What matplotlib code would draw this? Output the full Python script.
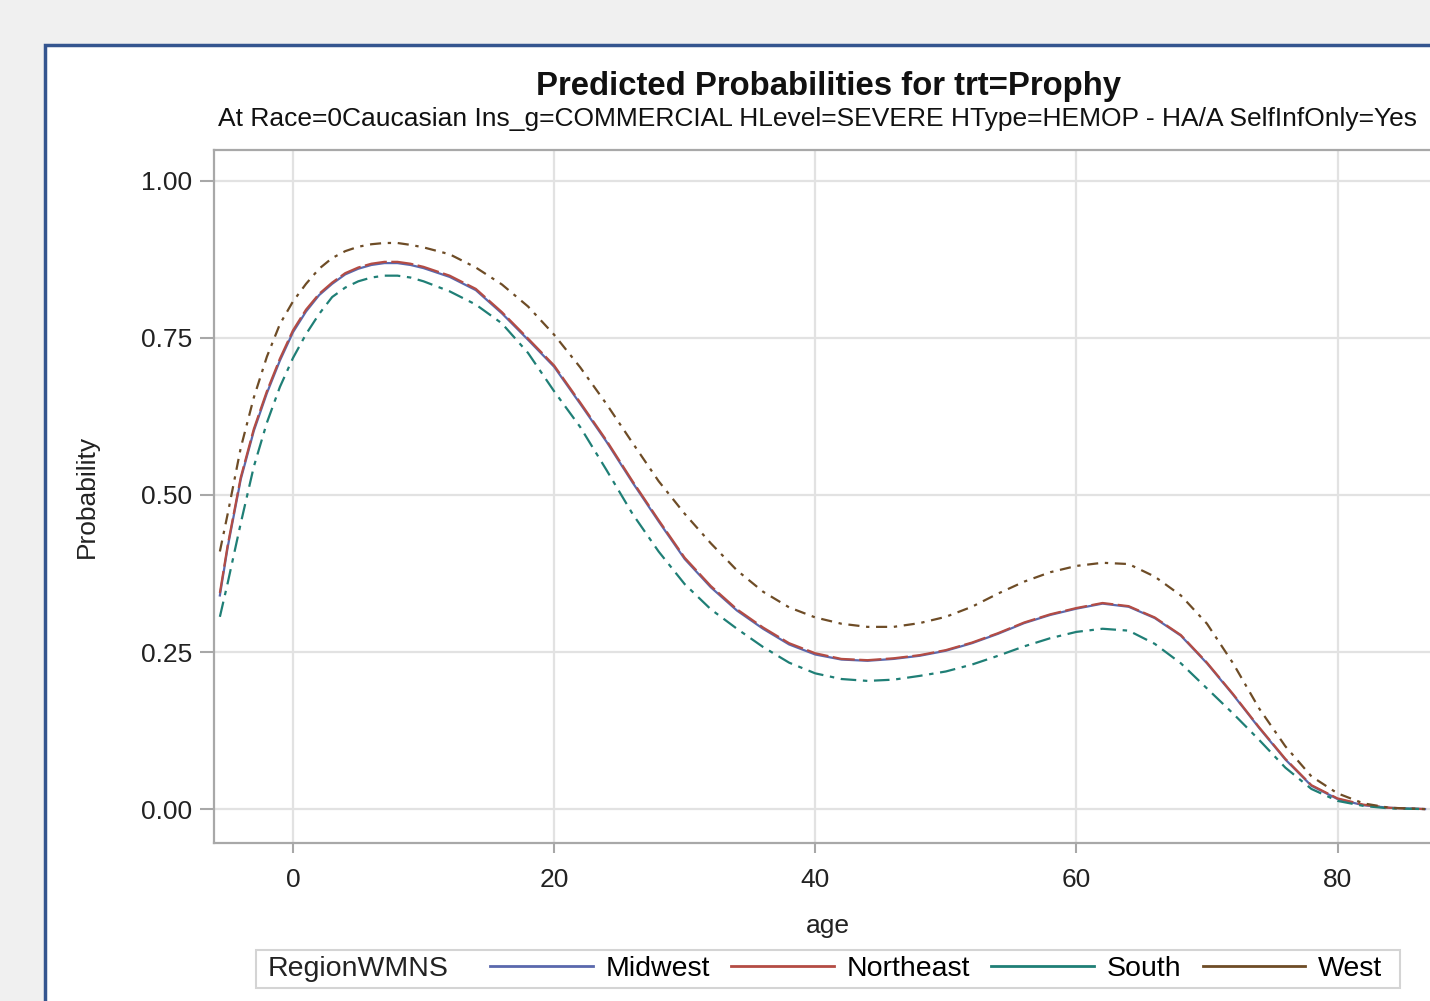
import matplotlib
matplotlib.use("Agg")
import matplotlib.pyplot as plt
from matplotlib.patches import Rectangle
from matplotlib.lines import Line2D

plt.rcParams['font.family'] = ['Liberation Sans', 'DejaVu Sans']

# values
age = [-5.6, -5, -4, -3, -2, -1, 0, 1, 2, 3, 4, 5, 6, 7, 8, 9, 10, 12, 14, 16, 18,
       20, 22, 24, 26, 28, 30, 32, 34, 36, 38, 40, 42, 44, 46, 48, 50, 52, 54, 56,
       58, 60, 62, 64, 66, 68, 70, 72, 74, 76, 78, 80, 82, 84, 86.7]

midwest = [0.340, 0.417, 0.525, 0.602, 0.662, 0.714, 0.759, 0.792, 0.818, 0.836, 0.851,
           0.860, 0.866, 0.869, 0.869, 0.866, 0.861, 0.847, 0.826, 0.789, 0.747,
           0.704, 0.645, 0.585, 0.520, 0.458, 0.398, 0.353, 0.316, 0.287, 0.262, 0.246,
           0.238, 0.236, 0.239, 0.244, 0.252, 0.264, 0.279, 0.296, 0.309, 0.319, 0.327,
           0.322, 0.304, 0.276, 0.232, 0.182, 0.129, 0.079, 0.037, 0.016, 0.006, 0.002, 0.0]

northeast = [0.344, 0.420, 0.528, 0.605, 0.665, 0.717, 0.762, 0.795, 0.820, 0.838, 0.853,
             0.862, 0.868, 0.871, 0.871, 0.868, 0.863, 0.849, 0.828, 0.791, 0.749,
             0.706, 0.647, 0.587, 0.522, 0.460, 0.400, 0.355, 0.318, 0.289, 0.264, 0.248,
             0.239, 0.237, 0.240, 0.245, 0.253, 0.265, 0.280, 0.297, 0.310, 0.320, 0.328,
             0.323, 0.305, 0.277, 0.233, 0.183, 0.130, 0.080, 0.038, 0.017, 0.007, 0.002, 0.0]

south = [0.306, 0.360, 0.455, 0.545, 0.615, 0.672, 0.718, 0.756, 0.788, 0.815, 0.830,
         0.840, 0.846, 0.849, 0.849, 0.846, 0.840, 0.824, 0.803, 0.773, 0.726,
         0.665, 0.608, 0.540, 0.470, 0.410, 0.358, 0.318, 0.287, 0.258, 0.233, 0.216,
         0.207, 0.204, 0.206, 0.212, 0.219, 0.230, 0.244, 0.259, 0.272, 0.282, 0.287,
         0.284, 0.263, 0.232, 0.192, 0.152, 0.110, 0.066, 0.032, 0.013, 0.005, 0.001, 0.0]

west = [0.410, 0.470, 0.575, 0.655, 0.720, 0.772, 0.808, 0.836, 0.860, 0.877, 0.888,
        0.895, 0.899, 0.901, 0.901, 0.898, 0.894, 0.883, 0.862, 0.835, 0.800,
        0.755, 0.703, 0.645, 0.583, 0.522, 0.470, 0.423, 0.380, 0.346, 0.321, 0.305,
        0.295, 0.290, 0.290, 0.296, 0.306, 0.322, 0.343, 0.362, 0.377, 0.387, 0.392,
        0.390, 0.370, 0.340, 0.295, 0.232, 0.160, 0.100, 0.052, 0.025, 0.009, 0.002, 0.0]

regions = ['Midwest', 'Northeast', 'South', 'West']
series = [midwest, northeast, south, west]
colors = ['#5a68ad', '#b44c44', '#1f7f76', '#6e4c26']
styles = ['-', (0, (10, 2)), (0, (7, 3, 2, 3)), (0, (5, 3, 1.5, 3))]

xticks = [0, 20, 40, 60, 80]
yticks = [0.0, 0.25, 0.5, 0.75, 1.0]
ytick_labels = ['0.00', '0.25', '0.50', '0.75', '1.00']

W, H = 1430, 1001
fig = plt.figure(figsize=(W / 100, H / 100), dpi=100)
fig.patch.set_facecolor('#f0f0f0')

# white panel with blue border (cropped on right and bottom)
fig.patches.append(Rectangle((45 / W, -0.05), 1.1, 1 - 45 / H + 0.05,
                             transform=fig.transFigure, facecolor='white',
                             edgecolor='#34558f', linewidth=2.5, zorder=-10))

ax = fig.add_axes([214 / W, 1 - 843 / H, (1442 - 214) / W, (843 - 150) / H])
for s, name, c, ls in zip(series, regions, colors, styles):
    ax.plot(age, s, color=c, linestyle=ls, linewidth=1.6, label=name)

ax.set_xlim(-6.05, 88)
ax.set_ylim(-0.054, 1.049)
ax.set_xticks(xticks)
ax.set_yticks(yticks)
ax.set_yticklabels(ytick_labels)
ax.grid(True, color='#e2e2e2', linewidth=1.6)
ax.set_axisbelow(True)
for sp in ax.spines.values():
    sp.set_color('#a8a8a8')
    sp.set_linewidth(1.6)
ax.tick_params(axis='both', colors='#a8a8a8', labelcolor='#222222', labelsize=19,
               width=1.5)
ax.tick_params(axis='y', length=10, pad=6)
ax.tick_params(axis='x', length=7, pad=11)
ax.set_xlabel('age', fontsize=19, color='#222222', labelpad=16)
ax.set_ylabel('Probability', fontsize=19, color='#222222', labelpad=30)

fig.text(828 / W, 1 - 87 / H, 'Predicted Probabilities for trt=Prophy',
         ha='center', va='center', fontsize=23.7, fontweight='bold', color='#111111')
fig.text(218 / W, 1 - 119 / H,
         'At Race=0Caucasian Ins_g=COMMERCIAL HLevel=SEVERE HType=HEMOP - HA/A SelfInfOnly=Yes',
         ha='left', va='center', fontsize=19.0, color='#111111')

# legend box
fig.patches.append(Rectangle((256 / W, 1 - 988 / H), (1400 - 256) / W, 38 / H,
                             transform=fig.transFigure, facecolor='white',
                             edgecolor='#d4d4d4', linewidth=1.5, zorder=-5))
fig.text(268 / W, 1 - 969 / H, 'RegionWMNS', ha='left', va='center',
         fontsize=20.5, color='#222222')
handles = [Line2D([], [], color=c, linewidth=2) for c in colors]
fig.legend(handles, regions, loc='center left', bbox_to_anchor=(490 / W, 1 - 969 / H),
           ncol=4, frameon=False, fontsize=20.5, handlelength=3.6, handletextpad=0.45,
           columnspacing=0.75, borderpad=0, borderaxespad=0)

fig.savefig('out.png', dpi=100, facecolor=fig.get_facecolor())
